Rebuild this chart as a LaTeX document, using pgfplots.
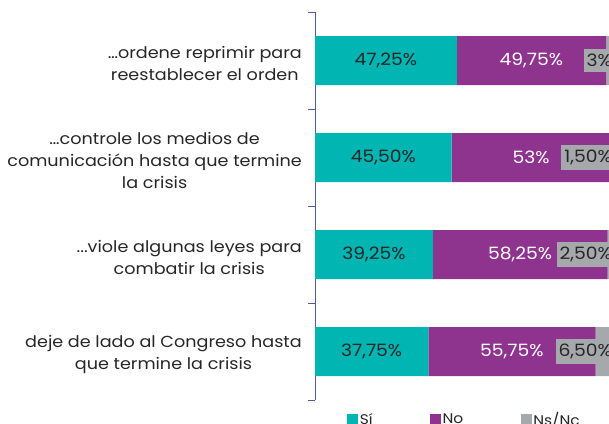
\documentclass[border=0pt]{standalone}
\usepackage{pgfplots}
\pgfplotsset{compat=1.18}
\usepackage{fontspec}
\setmainfont{Poppins}[FakeStretch=1.1]
\definecolor{cteal}{RGB}{0,181,178}
\definecolor{cpurple}{RGB}{142,52,142}
\definecolor{cgray}{RGB}{166,169,172}
\definecolor{caxis}{RGB}{80,92,160}
\begin{document}
\begin{tikzpicture}
\pgfplotsset{
  base/.style={
    at={(315pt,-400pt)}, anchor=south west,
    width=300pt, height=388pt, scale only axis,
    xmin=0, xmax=100, ymin=-0.5, ymax=3.5,
  }
}
\begin{axis}[base,
  xbar stacked, bar width=49pt,
  hide x axis,
  axis y line*=left,
  y axis line style={-, caxis, line width=0.8pt},
  ytick={0,1,2,3},
  yticklabels={{deje de lado al Congreso hasta\\que termine la crisis},
               {.{}.{}.viole algunas leyes para\\combatir la crisis},
               {…controle los medios de\\comunicación hasta que termine\\la crisis},
               {…ordene reprimir para\\reestablecer el orden}},
  major tick length=0pt,
  minor ytick={-0.5,0.5,1.5,2.5,3.5},
  minor tick length=7pt,
  tick align=outside,
  minor tick style={caxis, line width=0.8pt},
  yticklabel style={align=center, inner sep=0pt, xshift=-13pt, yshift=-3pt,
    font=\fontsize{16}{22}\selectfont, text=black!85},
  legend style={at={(axis description cs:0.107,-0.031)}, anchor=north west,
    draw=none, inner sep=0pt, row sep=0pt, legend columns=3,
    font=\fontsize{14}{16}\selectfont, text=black!85,
    nodes={inner xsep=1.5pt, inner ysep=0pt},
    /tikz/every even column/.append style={column sep=56pt}},
  legend image code/.code={\fill[#1] (0pt,-5.5pt) rectangle (11pt,5.5pt);},
]
\addplot[fill=cteal, draw=none] coordinates {(37.75,0) (39.25,1) (45.5,2) (47.25,3)};
\addplot[fill=cpurple, draw=none] coordinates {(55.75,0) (58.25,1) (53,2) (49.75,3)};
\addplot[fill=cgray, draw=none] coordinates {(6.5,0) (2.5,1) (1.5,2) (3,3)};
\legend{Sí, No, Ns/Nc}
\end{axis}
\begin{axis}[base, hide axis, clip=false,
  every node near coord/.append style={anchor=center, font=\fontsize{17}{19}\selectfont},
]
\addplot[draw=none, mark=none, nodes near coords, point meta=explicit symbolic,
  every node near coord/.append style={text=black!85}]
  coordinates {(18.875,0) [37,75\%] (19.625,1) [39,25\%] (22.75,2) [45,50\%] (23.625,3) [47,25\%]};
\addplot[draw=none, mark=none, nodes near coords, point meta=explicit symbolic,
  every node near coord/.append style={text=white}]
  coordinates {(65.625,0) [55,75\%] (68.375,1) [58,25\%] (72,2) [53\%] (72.125,3) [49,75\%]};
\addplot[draw=none, mark=none, nodes near coords, point meta=explicit symbolic,
  every node near coord/.append style={anchor=east, text=black!85, fill=cgray, inner xsep=3pt, inner ysep=5pt}]
  coordinates {(100,0) [6,50\%] (100,1) [2,50\%] (100,2) [1,50\%] (100,3) [3\%]};
\end{axis}
\pgfresetboundingbox
\path[use as bounding box] (0,0) rectangle (609pt,-423pt);
\end{tikzpicture}
\end{document}
